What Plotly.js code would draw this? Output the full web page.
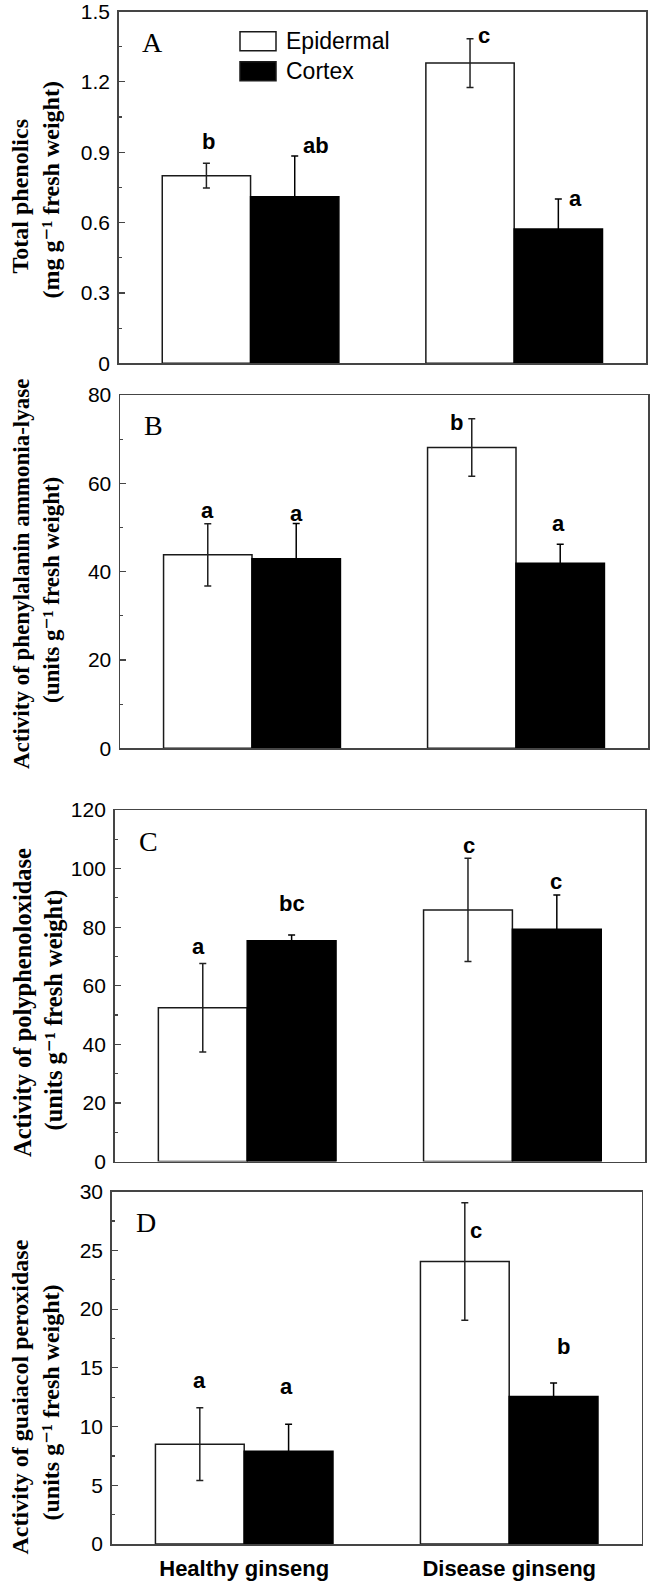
<!DOCTYPE html>
<html>
<head>
<meta charset="utf-8">
<script src="https://cdn.plot.ly/plotly-3.0.1.min.js"></script>
<style>
  html, body { margin: 0; padding: 0; background: #fff; }
  #chart { width: 650px; height: 1583px; }
</style>
</head>
<body>
<div id="chart"></div>
<script>
// ---------- data ----------
const categories = ['Healthy ginseng', 'Disease ginseng'];
const seriesNames = ['Epidermal', 'Cortex'];
const seriesColors = ['#ffffff', '#000000'];

// A: Total phenolics (mg g-1 fresh weight)
const phenolicsEpidermal = [0.80, 1.28];
const phenolicsEpidermalErr = [0.053, 0.104];
const phenolicsCortex = [0.71, 0.573];
const phenolicsCortexErr = [0.174, 0.128];
const phenolicsEpidermalLetters = ['b', 'c'];
const phenolicsCortexLetters = ['ab', 'a'];

// B: Phenylalanin ammonia-lyase activity
const palEpidermal = [43.8, 68.1];
const palEpidermalErr = [7.05, 6.5];
const palCortex = [42.9, 41.9];
const palCortexErr = [8.0, 4.3];
const palEpidermalLetters = ['a', 'b'];
const palCortexLetters = ['a', 'a'];

// C: Polyphenoloxidase activity
const ppoEpidermal = [52.5, 85.9];
const ppoEpidermalErr = [15.1, 17.6];
const ppoCortex = [75.4, 79.3];
const ppoCortexErr = [1.9, 11.7];
const ppoEpidermalLetters = ['a', 'c'];
const ppoCortexLetters = ['bc', 'c'];

// D: Guaiacol peroxidase activity
const podEpidermal = [8.5, 24.05];
const podEpidermalErr = [3.1, 5.0];
const podCortex = [7.9, 12.55];
const podCortexErr = [2.3, 1.15];
const podEpidermalLetters = ['a', 'c'];
const podCortexLetters = ['a', 'b'];

// axis titles (two lines each)
const titleA = ['Total phenolics', '(mg g⁻¹ fresh weight)'];
const titleB = ['Activity of phenylalanin ammonia-lyase', '(units g⁻¹ fresh weight)'];
const titleC = ['Activity of polyphenoloxidase', '(units g⁻¹ fresh weight)'];
const titleD = ['Activity of guaiacol peroxidase', '(units g⁻¹ fresh weight)'];

// ---------- styling / layout config ----------
const W = 650, H = 1583;
const sans = '"Liberation Sans", Arial, sans-serif';
const serif = '"Liberation Serif", "Times New Roman", "DejaVu Serif", serif';
const frameColor = '#454545';

// panel pixel boxes [left, right, top, bottom]; title line centres [[x, y], [x, y]] in px
const panels = [
  { id: '',  box: [118.75, 646, 11.5, 363.3],  range: [0, 1.5], dtick: 0.3, minor: 0.15, label: 'A',
    title: titleA, titlePos: [[19.5, 196], [50.5, 190]], titleSize: 24,
    epi: phenolicsEpidermal, epiErr: phenolicsEpidermalErr, cor: phenolicsCortex, corErr: phenolicsCortexErr,
    epiL: phenolicsEpidermalLetters, corL: phenolicsCortexLetters,
    // letter offsets in px [dx, dy(up)] relative to top of error bar
    epiOff: [[2, 22], [14, 3]], corOff: [[21, 10], [17, 0]] },
  { id: '2', box: [120, 648, 395, 748.3], range: [0, 80], dtick: 20, minor: 10, label: 'B',
    title: titleB, titlePos: [[21, 574], [51, 590]], titleSize: 23,
    epi: palEpidermal, epiErr: palEpidermalErr, cor: palCortex, corErr: palCortexErr,
    epiL: palEpidermalLetters, corL: palCortexLetters,
    epiOff: [[0, 13], [-15, -4]], corOff: [[0, 10], [-2, 21]] },
  { id: '3', box: [114.6, 645, 810, 1161.5], range: [0, 120], dtick: 20, minor: 10, label: 'C',
    title: titleC, titlePos: [[22, 1003], [53.5, 1010]], titleSize: 24.5,
    epi: ppoEpidermal, epiErr: ppoEpidermalErr, cor: ppoCortex, corErr: ppoCortexErr,
    epiL: ppoEpidermalLetters, corL: ppoCortexLetters,
    epiOff: [[-4, 17], [1, 13]], corOff: [[0, 32], [-1, 13]] },
  { id: '4', box: [111.7, 641.7, 1191.7, 1544], range: [0, 30], dtick: 5, minor: 2.5, label: 'D',
    title: titleD, titlePos: [[19.5, 1397], [50.5, 1403]], titleSize: 24,
    epi: podEpidermal, epiErr: podEpidermalErr, cor: podCortex, corErr: podCortexErr,
    epiL: podEpidermalLetters, corL: podCortexLetters,
    epiOff: [[0, 27], [11, -28]], corOff: [[-2, 38], [10, 37]] }
];

const traces = [];
const annotations = [];
const shapes = [];
const layout = {
  width: W, height: H,
  margin: { l: 0, r: 0, t: 0, b: 0 },
  paper_bgcolor: '#fff', plot_bgcolor: '#fff',
  barmode: 'group', bargap: 0.33, bargroupgap: 0,
  showlegend: false,
  annotations: annotations,
  shapes: shapes
};

const barHalf = 0.1675; // half of a bar width in category units

panels.forEach((p, i) => {
  const xa = 'x' + p.id, ya = 'y' + p.id;
  const [l, r, t, b] = p.box;
  const isLast = i === panels.length - 1;

  traces.push({
    type: 'bar', name: seriesNames[0], x: categories, y: p.epi,
    xaxis: xa, yaxis: ya,
    marker: { color: seriesColors[0], line: { color: '#1a1a1a', width: 1.5 } },
    error_y: { type: 'data', array: p.epiErr, visible: true, color: '#222', thickness: 1.5, width: 3.5 },
    hoverinfo: 'y'
  });
  traces.push({
    type: 'bar', name: seriesNames[1], x: categories, y: p.cor,
    xaxis: xa, yaxis: ya,
    marker: { color: seriesColors[1], line: { color: '#000', width: 1.5 } },
    error_y: { type: 'data', array: p.corErr, visible: true, color: '#000', thickness: 1.5, width: 3.5 },
    hoverinfo: 'y'
  });

  const xKey = 'xaxis' + p.id, yKey = 'yaxis' + p.id;
  layout[xKey] = {
    domain: [l / W, r / W], anchor: ya, type: 'category',
    range: [-0.5, 1.5], fixedrange: true,
    showline: true, linecolor: frameColor, linewidth: 1.5, mirror: true,
    ticks: '', showgrid: false, zeroline: false,
    showticklabels: isLast, automargin: false,
    tickfont: { family: sans, size: 22, color: '#000', weight: 'bold' },
    ticklabelstandoff: 4, ticklabeloverflow: 'allow'
  };
  layout[yKey] = {
    domain: [1 - b / H, 1 - t / H], anchor: xa,
    range: [p.range[0], p.range[1] * 1.00001], tick0: 0, dtick: p.dtick, fixedrange: true,
    showline: true, linecolor: frameColor, linewidth: 1.5, mirror: true,
    ticks: 'inside', ticklen: 6, tickwidth: 1.2, tickcolor: frameColor,
    minor: { dtick: p.minor, tick0: 0, ticks: 'inside', ticklen: 3, tickwidth: 1.2, tickcolor: frameColor },
    showgrid: false, zeroline: false, automargin: false,
    tickfont: { family: sans, size: 21, color: '#000' },
    ticklabelstandoff: 3, ticklabeloverflow: 'allow'
  };

  // y-axis title: two rotated lines
  p.title.forEach((line, k) => {
    annotations.push({
      xref: 'paper', yref: 'paper', x: p.titlePos[k][0] / W, y: 1 - p.titlePos[k][1] / H,
      xanchor: 'center', yanchor: 'middle', showarrow: false, textangle: -90,
      text: line,
      font: { family: serif, size: p.titleSize, color: '#000', weight: 'bold' }
    });
  });

  // panel letter
  annotations.push({
    xref: xa + ' domain', yref: ya + ' domain', x: 0.064, y: 1 - 31 / (b - t),
    xanchor: 'center', yanchor: 'middle', showarrow: false, text: p.label,
    font: { family: serif, size: 28, color: '#000' }
  });

  // significance letters
  const addLetters = (vals, errs, letters, offs, sign) => {
    vals.forEach((v, k) => {
      annotations.push({
        xref: xa, yref: ya, x: k + sign * barHalf, y: v + errs[k],
        xshift: offs[k][0], yshift: offs[k][1],
        xanchor: 'center', yanchor: 'middle', showarrow: false, text: letters[k],
        font: { family: sans, size: 22, color: '#000', weight: 'bold' }
      });
    });
  };
  addLetters(p.epi, p.epiErr, p.epiL, p.epiOff, -1);
  addLetters(p.cor, p.corErr, p.corL, p.corOff, 1);
});

// legend (panel A): key boxes + labels
const legendKeys = [
  { x0: 240, x1: 276, y0: 31.7, y1: 50.7 },
  { x0: 240, x1: 276, y0: 61.7, y1: 80.7 }
];
seriesNames.forEach((name, k) => {
  const key = legendKeys[k];
  shapes.push({
    type: 'rect', xref: 'paper', yref: 'paper',
    x0: key.x0 / W, x1: key.x1 / W, y0: 1 - key.y1 / H, y1: 1 - key.y0 / H,
    fillcolor: seriesColors[k], line: { color: '#1a1a1a', width: 1.5 }
  });
  annotations.push({
    xref: 'paper', yref: 'paper', x: 284 / W, y: 1 - ((key.y0 + key.y1) / 2) / H,
    xanchor: 'left', yanchor: 'middle', showarrow: false, text: name,
    font: { family: sans, size: 23, color: '#000' }
  });
});

Plotly.newPlot('chart', traces, layout, { staticPlot: true, displayModeBar: false });
</script>
</body>
</html>
